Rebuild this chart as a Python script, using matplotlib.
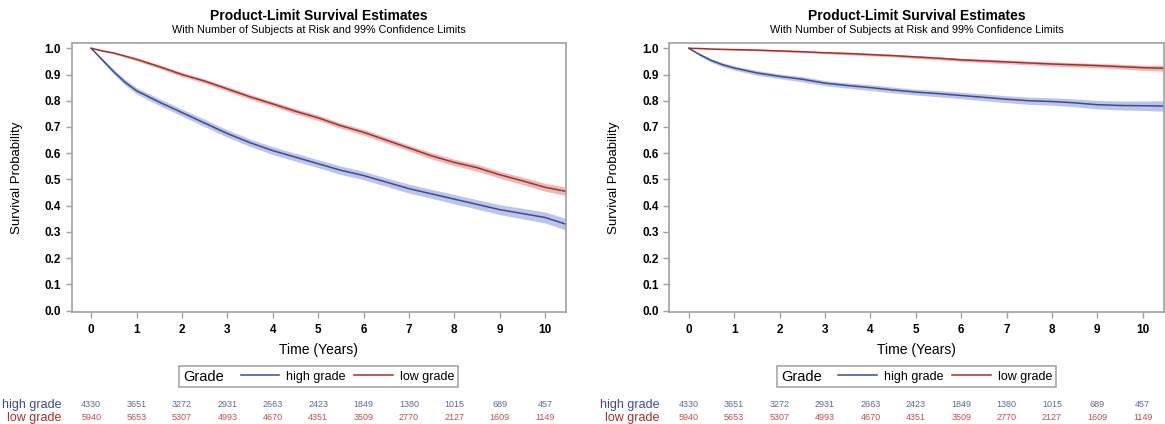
import numpy as np
import matplotlib
matplotlib.use('Agg')
import matplotlib.pyplot as plt
from matplotlib.lines import Line2D
from matplotlib.offsetbox import HPacker

plt.rcParams['font.family'] = ['Liberation Sans', 'DejaVu Sans']

# data
time = [0, 0.25, 0.5, 0.75, 1.0, 1.5, 2.0, 2.5, 3.0, 3.5, 4.0, 4.5, 5.0, 5.5,
        6.0, 6.5, 7.0, 7.5, 8.0, 8.5, 9.0, 9.5, 10.0, 10.45]

# left panel
left_high = [1.0, 0.955, 0.91, 0.87, 0.838, 0.795, 0.755, 0.715, 0.675, 0.64, 0.61, 0.585,
             0.56, 0.535, 0.515, 0.49, 0.465, 0.445, 0.425, 0.405, 0.385, 0.37, 0.355, 0.33]
left_high_ci = [0, 0.006, 0.009, 0.011, 0.012, 0.013, 0.013, 0.014, 0.014, 0.014, 0.015, 0.015,
                0.015, 0.016, 0.016, 0.016, 0.017, 0.017, 0.018, 0.018, 0.019, 0.02, 0.021, 0.022]
left_low = [1.0, 0.99, 0.982, 0.97, 0.958, 0.93, 0.90, 0.875, 0.845, 0.815, 0.788, 0.76,
            0.735, 0.705, 0.68, 0.65, 0.62, 0.59, 0.565, 0.545, 0.518, 0.495, 0.47, 0.455]
left_low_ci = [0, 0.003, 0.004, 0.005, 0.006, 0.007, 0.008, 0.008, 0.009, 0.009, 0.009, 0.01,
               0.01, 0.01, 0.011, 0.011, 0.011, 0.012, 0.012, 0.013, 0.013, 0.014, 0.015, 0.016]

# right panel
right_high = [1.0, 0.975, 0.953, 0.937, 0.925, 0.906, 0.893, 0.882, 0.867, 0.858, 0.85, 0.841,
              0.833, 0.827, 0.82, 0.813, 0.806, 0.80, 0.797, 0.792, 0.785, 0.782, 0.781, 0.78]
right_high_ci = [0, 0.005, 0.007, 0.008, 0.008, 0.009, 0.009, 0.01, 0.01, 0.01, 0.011, 0.011,
                 0.011, 0.012, 0.012, 0.013, 0.013, 0.014, 0.014, 0.015, 0.016, 0.017, 0.018, 0.02]
right_low = [1.0, 0.999, 0.997, 0.996, 0.995, 0.993, 0.99, 0.987, 0.983, 0.98, 0.976, 0.972,
             0.967, 0.962, 0.956, 0.952, 0.948, 0.944, 0.94, 0.937, 0.934, 0.93, 0.926, 0.924]
right_low_ci = [0, 0.001, 0.002, 0.002, 0.003, 0.003, 0.004, 0.004, 0.004, 0.005, 0.005, 0.005,
                0.006, 0.006, 0.006, 0.007, 0.007, 0.007, 0.008, 0.008, 0.008, 0.009, 0.01, 0.011]

# number at risk
risk_times = [0, 1, 2, 3, 4, 5, 6, 7, 8, 9, 10]
risk_high = [4330, 3651, 3272, 2931, 2663, 2423, 1849, 1380, 1015, 689, 457]
risk_low = [5940, 5653, 5307, 4993, 4670, 4351, 3509, 2770, 2127, 1609, 1149]

groups = ['high grade', 'low grade']
title = 'Product-Limit Survival Estimates'
subtitle = 'With Number of Subjects at Risk and 99% Confidence Limits'

blue = '#3d4a94'
blue_band = '#8f9fd8'
red = '#a5302b'
red_band = '#e08a86'
frame_col = '#a0a0a0'


def panel(ax, high, high_ci, low, low_ci):
    t = np.array(time)
    for s, ci, c, cb in [(high, high_ci, blue, blue_band), (low, low_ci, red, red_band)]:
        s = np.array(s)
        ci = np.array(ci)
        ax.fill_between(t, s - ci, s + ci, color=cb, alpha=0.6, lw=0)
        ax.plot(t, s, color=c, lw=1.1)
    ax.set_xlim(-0.43, 10.46)
    ax.set_ylim(-0.004, 1.019)
    ax.set_xticks(risk_times)
    ax.set_yticks(np.arange(0, 1.01, 0.1))
    ax.set_yticklabels([f'{v:.1f}' for v in np.arange(0, 1.01, 0.1)])
    for sp in ax.spines.values():
        sp.set_color(frame_col)
        sp.set_linewidth(1.2)
    ax.tick_params(colors=frame_col, labelcolor='black', length=4, width=1, labelsize=8.5)
    ax.tick_params(axis='x', pad=5)
    for lab in ax.get_xticklabels() + ax.get_yticklabels():
        lab.set_fontweight('bold')
    ax.set_xlabel('Time (Years)', fontsize=10, labelpad=5)
    ax.set_ylabel('Survival Probability', fontsize=9.5, labelpad=16)
    ax.text(0.5, 1.10, title, transform=ax.transAxes, ha='center', va='center',
            fontsize=10, fontweight='bold')
    ax.text(0.5, 1.05, subtitle, transform=ax.transAxes, ha='center', va='center',
            fontsize=7.8)

    # legend: title on the left of the entries
    handles = [Line2D([], [], color=blue, lw=1.1), Line2D([], [], color=red, lw=1.1)]
    leg = ax.legend(handles, groups, title='Grade', ncol=2, loc='center',
                    bbox_to_anchor=(0.5, -0.242), fontsize=9, title_fontsize=10.5,
                    frameon=True, fancybox=False, handlelength=3.1, handletextpad=0.55,
                    columnspacing=0.7, borderpad=0.3, edgecolor='#909090')
    leg.get_frame().set_linewidth(1.2)
    box = leg._legend_box
    kids = box.get_children()
    box._children = [HPacker(pad=0, sep=12, align='center', children=kids)]

    # at risk table
    trans = matplotlib.transforms.blended_transform_factory(ax.transData, ax.transAxes)
    for row, (vals, c, lc, y) in enumerate([(risk_high, '#5a67a8', blue, -0.347),
                                            (risk_low, '#c0504d', red, -0.396)]):
        for tt, v in zip(risk_times, vals):
            ax.text(tt, y, str(v), transform=trans, ha='center', va='center',
                    fontsize=6.5, color=c)
        ax.text(-0.02, y, groups[row], transform=ax.transAxes, ha='right', va='center',
                fontsize=9, color=lc)


fig = plt.figure(figsize=(11.65, 4.24), dpi=100)
ax1 = fig.add_axes([0.0615, 0.2649, 0.4243, 0.633])
ax2 = fig.add_axes([0.5745, 0.2649, 0.4243, 0.633])
panel(ax1, left_high, left_high_ci, left_low, left_low_ci)
panel(ax2, right_high, right_high_ci, right_low, right_low_ci)

fig.savefig('out.png', dpi=100)
